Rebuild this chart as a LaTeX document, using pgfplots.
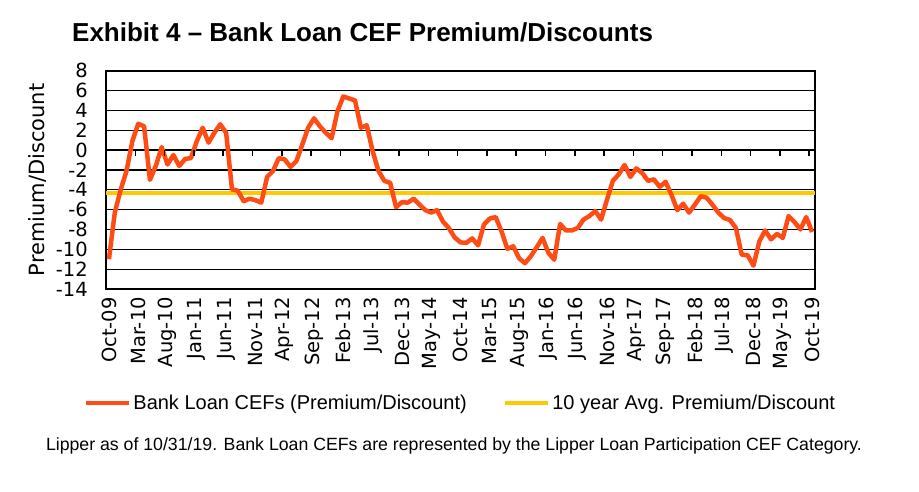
\documentclass[border=0pt]{standalone}
\usepackage{fontspec}
\setmainfont{Liberation Sans}
\newfontfamily\dvs{DejaVu Sans}
\usepackage{pgfplots}
\usepackage{pgfplotstable}
\pgfplotsset{compat=1.18}

\definecolor{bkorange}{RGB}{255,76,20}
\definecolor{bkyellow}{RGB}{255,200,0}

% monthly premium/discount, Oct-09 (0) .. Oct-19 (120)
\pgfplotstableread{
i v
0 -11.0
1 -6.3
2 -4.0
3 -2.1
4 0.9
5 2.65
6 2.4
7 -3.0
8 -1.6
9 0.3
10 -1.45
11 -0.5
12 -1.6
13 -0.9
14 -0.8
15 0.9
16 2.25
17 0.75
18 1.75
19 2.6
20 1.75
21 -3.95
22 -4.1
23 -5.15
24 -4.9
25 -5.05
26 -5.3
27 -2.7
28 -2.1
29 -0.8
30 -0.95
31 -1.7
32 -1.1
33 0.55
34 2.25
35 3.2
36 2.4
37 1.75
38 1.2
39 3.9
40 5.4
41 5.2
42 5.0
43 2.25
44 2.5
45 -0.1
46 -2.1
47 -3.1
48 -3.3
49 -5.75
50 -5.25
51 -5.3
52 -4.9
53 -5.5
54 -6.05
55 -6.3
56 -6.05
57 -7.2
58 -7.85
59 -8.8
60 -9.3
61 -9.35
62 -8.9
63 -9.6
64 -7.5
65 -6.9
66 -6.75
67 -8.2
68 -9.95
69 -9.7
70 -10.9
71 -11.4
72 -10.7
73 -9.8
74 -8.85
75 -10.35
76 -11.05
77 -7.45
78 -8.1
79 -8.1
80 -7.85
81 -7.0
82 -6.65
83 -6.15
84 -7.0
85 -5.0
86 -3.1
87 -2.45
88 -1.5
89 -2.7
90 -1.85
91 -2.3
92 -3.1
93 -2.95
94 -3.7
95 -3.2
96 -4.5
97 -6.05
98 -5.4
99 -6.3
100 -5.5
101 -4.65
102 -4.8
103 -5.5
104 -6.3
105 -6.85
106 -7.05
107 -7.85
108 -10.55
109 -10.6
110 -11.65
111 -9.2
112 -8.1
113 -9.0
114 -8.45
115 -8.85
116 -6.65
117 -7.25
118 -8.0
119 -6.75
120 -8.25
}\loandata

\begin{document}
\begin{tikzpicture}
\useasboundingbox (0,0) rectangle (919pt,-492pt);

\node[anchor=west, inner sep=0pt, font=\fontsize{26}{30}\selectfont\bfseries] at (72pt,-32pt)
  {Exhibit 4 – Bank Loan CEF Premium/Discounts};

\begin{axis}[
    at={(106pt,-289pt)}, anchor=south west,
    scale only axis,
    width=709pt, height=218.3pt,
    xmin=-0.5, xmax=120.5,
    ymin=-14, ymax=8,
    ytick={-14,-12,...,8},
    xtick={0,5,...,120},
    xticklabels={Oct-09,Mar-10,Aug-10,Jan-11,Jun-11,Nov-11,Apr-12,Sep-12,Feb-13,Jul-13,Dec-13,May-14,Oct-14,Mar-15,Aug-15,Jan-16,Jun-16,Nov-16,Apr-17,Sep-17,Feb-18,Jul-18,Dec-18,May-19,Oct-19},
    xtick style={draw=none}, ytick style={draw=none},
    ymajorgrids,
    grid style={black, line width=1.3pt},
    axis line style={black, line width=1.6pt},
    /pgf/number format/assume math mode=true,
    yticklabel style={font=\dvs\fontsize{19.5}{22}\selectfont, anchor=east, inner xsep=18pt, inner ysep=0pt},
    xticklabel style={font=\dvs\fontsize{19.5}{22}\selectfont, rotate=90, anchor=east, inner xsep=8pt, inner ysep=0pt},
    ylabel={Premium/Discount},
    every axis y label/.style={at={(axis description cs:-0.096,0.5)}, rotate=90, anchor=center, font=\dvs\fontsize{21}{24}\selectfont},
    reverse legend,
    legend columns=2,
    legend style={draw=none, fill=none, at={(axis description cs:0.5,-0.522)}, anchor=center,
      font=\fontsize{20}{23}\selectfont,
      /tikz/every even column/.append style={column sep=34pt}},
    legend image code/.code={\draw[#1] (0pt,0pt) -- (43pt,0pt);},
  ]
  \addplot[bkyellow, line width=4.5pt] coordinates {(-0.5,-4.3) (120.5,-4.3)};
  \addlegendentry{10 year Avg. Premium/Discount}
  \addplot[bkorange, line width=4.5pt, line join=round] table[x=i, y=v] {\loandata};
  \addlegendentry{Bank Loan CEFs (Premium/Discount)}
  \pgfplotsinvokeforeach{4.5,9.5,...,119.5}{
    \draw[black, line width=1.5pt] (axis cs:#1,0) -- ([yshift=-6pt]axis cs:#1,0);
  }
\end{axis}

\node[font=\fontsize{17.7}{21}\selectfont] at (454pt,-446pt)
  {Lipper as of 10/31/19. Bank Loan CEFs are represented by the Lipper Loan Participation CEF Category.};
\end{tikzpicture}
\end{document}
